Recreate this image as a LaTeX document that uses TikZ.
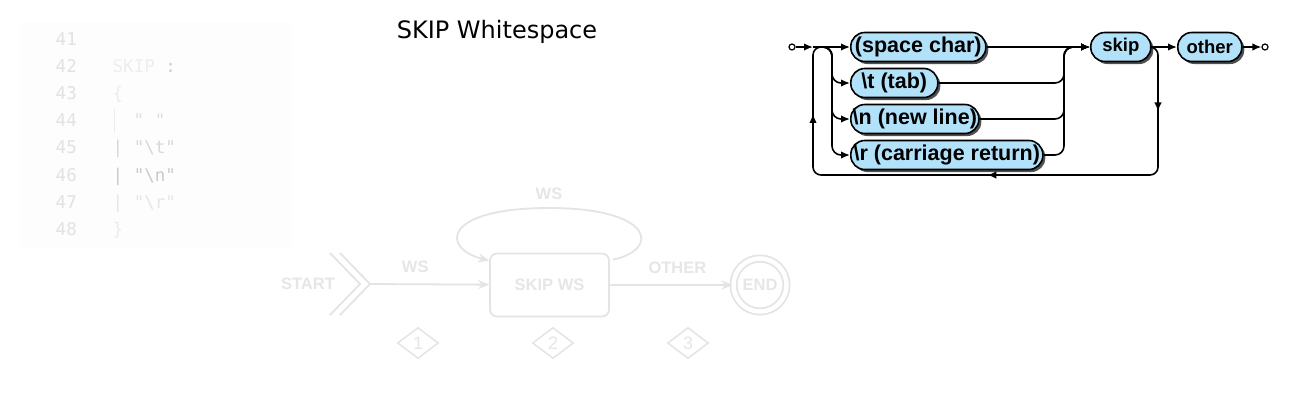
\documentclass[tikz,border=0pt]{standalone}
\usepackage{fontspec}
\setmainfont{Liberation Sans}
\newfontfamily\titlefont{DejaVu Sans}
\newfontfamily\codefont{DejaVu Sans Mono}
\usepackage{tikz}
\usetikzlibrary{arrows.meta,calc,positioning,shapes.geometric,shadows,decorations.markings}
\tikzset{>={Latex[length=9pt,width=7.5pt]}}

\definecolor{termblue}{RGB}{178,226,250}
\definecolor{boxshade}{RGB}{80,80,80}
\definecolor{faint}{RGB}{228,228,228}
\definecolor{fainttext}{RGB}{230,230,230}
\definecolor{codebg}{RGB}{253,253,253}
\definecolor{numcol}{RGB}{226,226,226}
\definecolor{kwcol}{RGB}{238,238,238}
\definecolor{coloncol}{RGB}{205,205,205}
\definecolor{bracecol}{RGB}{236,236,236}
\definecolor{altA}{RGB}{224,224,224}
\definecolor{altB}{RGB}{216,216,216}
\definecolor{altC}{RGB}{202,202,202}
\definecolor{altD}{RGB}{230,230,230}

\begin{document}
\begin{tikzpicture}[x=1pt,y=-1pt,
        rr/.style={black, line width=1.6pt},
        term/.style={draw=black, line width=1.6pt, fill=termblue, rounded corners=14pt,
            minimum height=29pt, inner sep=0pt, anchor=west,
            font=\bfseries\fontsize{21.5}{21.5}\selectfont,
            general shadow={fill=boxshade, shadow xshift=2.5pt, shadow yshift=-2.5pt}},
        nonterm/.style={term, font=\bfseries\fontsize{18.5}{18.5}\selectfont},
        endpt/.style={circle, draw=black, line width=1.2pt, fill=white, minimum size=6pt, inner sep=0pt},
        code/.style={anchor=base west, inner sep=0pt, font=\codefont\fontsize{17.5}{17.5}\selectfont},
        faintline/.style={draw=faint, line width=1.8pt},
        faintarrow/.style={faintline, -{Stealth[length=11pt,width=9pt]}},
        fainttxt/.style={text=fainttext, font=\bfseries\fontsize{16.5}{16.5}\selectfont},
        faintbox/.style={faintline, rounded corners=7pt, minimum width=119pt, minimum height=63pt, fainttxt},
        faintdia/.style={diamond, faintline, line width=1.5pt, minimum width=41pt, minimum height=31pt,
            inner sep=0pt, fainttxt, font=\fontsize{18}{18}\selectfont}]

    \fill[white] (0,0) rectangle (1300,400);
    \useasboundingbox (0,0) rectangle (1300,400);

    % code panel
    \fill[codebg] (20,22) rectangle (292,248);
    \foreach \n [count=\i from 0] in {41,...,48}
    {
        \node[code, anchor=base east, text=numcol] (num\n) at (77,45.5+27.1*\i) {\n};
    }
    \node[code, text=kwcol] (kw) at (112.5,72.6) {SKIP \textcolor{coloncol}{:}};
    \node[code, text=bracecol] (lbrace) at (112.5,99.7) {\{};
    \node[code, text=altA] (altsp) at (133.5,126.8) {"\ "};
    \draw[draw=bracecol, line width=1pt] (114,108) -- (114,133);
    \node[code, text=altB] (alttab) at (112.5,153.9) {|\ "\textbackslash t"};
    \node[code, text=altC] (altnl) at (112.5,181.0) {|\ "\textbackslash n"};
    \node[code, text=altD] (altcr) at (112.5,208.1) {|\ "\textbackslash r"};
    \node[code, text=bracecol] (rbrace) at (112.5,235.2) {\}};

    % title
    \node[font=\titlefont\fontsize{24}{24}\selectfont] (title) at (497,32) {SKIP Whitespace};

    % faded state machine
    \node[fainttxt] (startlbl) at (308,284) {START};
    \draw[faintline] (330,253) -- (360,284) -- (330,315);
    \draw[faintline] (340,253) -- (370,284) -- (340,315);
    \coordinate (chev) at (370,284);
    \node[faintbox] (skipws) at (549.5,285) {SKIP WS};
    \node[circle, faintline, double=white, double distance=4.5pt, minimum size=53pt, inner sep=0pt,
        fainttxt] (endst) at (760,285) {END};
    \draw[faintarrow] (chev) -- node[fainttxt, pos=0.38, above=7pt] {WS} (skipws);
    \draw[faintarrow] (skipws) -- node[fainttxt, pos=0.55, above=7pt] {OTHER} (endst);
    \coordinate (loopout) at ([xshift=3pt,yshift=-7pt]skipws.north east);
    \coordinate (loopin) at ([yshift=-8pt]skipws.north west);
    \draw[faintarrow] (loopout) .. controls (660,250) and (655,208) .. (549,208)
        .. controls (443,208) and (440,248) .. (loopin);
    \node[fainttxt] (looplbl) at (549,194) {WS};
    \foreach \k/\x in {1/418,2/553,3/688}
    {
        \node[faintdia] (dia\k) at (\x,343) {\k};
    }

    % railroad diagram
    \node[endpt] (begin) at (792,47) {};
    \coordinate (split) at (813,47);
    \node[term, minimum width=135pt] (space) at (850,47) {(space char)};
    \node[term, minimum width=87pt] (tab) at (850,83) {\textbackslash t (tab)};
    \node[term, minimum width=128pt] (newline) at (850,119) {\textbackslash n (new line)};
    \node[term, minimum width=192pt] (cr) at (850,155) {\textbackslash r (carriage return)};
    \node[nonterm, minimum width=60pt] (skip) at (1090,47) {skip};
    \node[nonterm, minimum width=64pt] (other) at (1177,47) {other};
    \node[endpt] (finish) at (1265,47) {};
    \coordinate (loopturn) at (1158,175);

    \draw[rr,->] (begin) -- (split);
    \draw[rr,->] (split) -- (space.west);
    \foreach \n in {tab,newline,cr}
    {
        \draw[rr,->,rounded corners=9pt] (split) -| ([xshift=-18pt]\n.west) -- (\n.west);
        \draw[rr,->,rounded corners=9pt] (\n.east) -| ([xshift=-26pt]skip.west) -- (skip.west);
    }
    \draw[rr,->] (space.east) -- (skip.west);
    \draw[rr,->] (skip.east) -- (other.west);
    \draw[rr,->] (other.east) -- (finish);
    \draw[rr,rounded corners=8pt,
        decoration={markings,
            mark=at position 0.116 with {\arrow{>}},
            mark=at position 0.495 with {\arrow{>}},
            mark=at position 0.876 with {\arrow{>}}},
        postaction={decorate}]
        (skip.east) -| (loopturn) -| (split) -- ([xshift=12pt]split);
\end{tikzpicture}
\end{document}
